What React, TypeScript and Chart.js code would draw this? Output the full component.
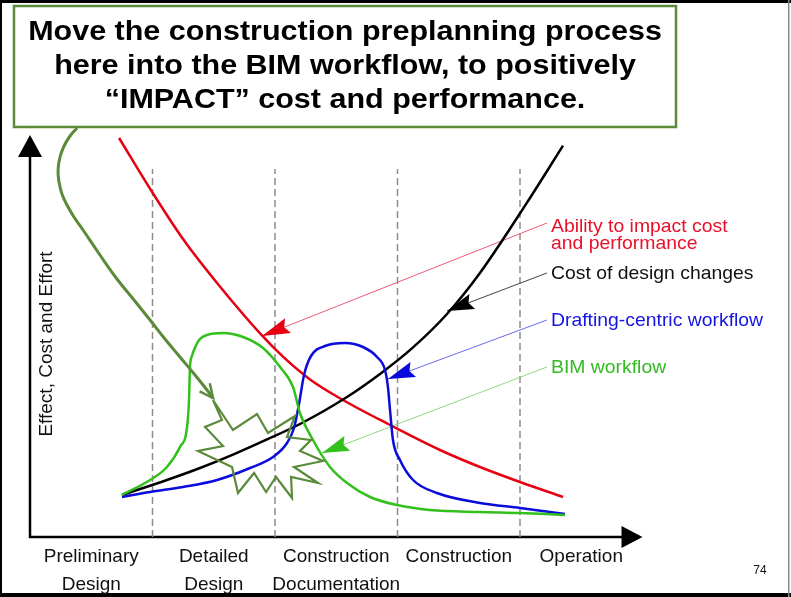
import React, { useEffect, useRef } from "react";
import { Chart, registerables } from "chart.js";

Chart.register(...registerables);

const FONT = "'Liberation Sans', Arial, Helvetica, sans-serif";

// ---- categories / axis texts ----
const phaseLabels: string[][] = [
  ["Preliminary", "Design"],
  ["Detailed", "Design"],
  ["Construction", "Documentation"],
  ["Construction"],
  ["Operation"],
];
const phaseCenters = [0.5, 1.5, 2.5, 3.5, 4.5];
const phaseBoundaries = [1, 2, 3, 4];
const boundaryTop = 92;
const yAxisTitle = "Effect, Cost and Effort";
const yAxisTop = 100.5;
const xAxisEnd = 5;

const calloutLines = [
  "Move the construction preplanning process",
  "here into the BIM workflow, to positively",
  "\u201CIMPACT\u201D cost and performance.",
];
const pageNumber = "74";

// ---- series ----
const abilityX = [0.727, 1.004, 1.249, 1.527, 1.878, 2.065, 2.286, 2.555, 2.939, 3.347, 3.673, 4.0, 4.351];
const abilityY = [99.75, 85.9, 74.5, 63.5, 50.9, 45.1, 39.4, 34.25, 28, 21.75, 17.5, 13.75, 10];

const costX = [0.751, 1.118, 1.388, 1.657, 1.935, 2.204, 2.588, 2.857, 3.127, 3.404, 3.673, 4.057, 4.351];
const costY = [10.5, 14.25, 17.25, 20.6, 24.4, 28.25, 35, 40.75, 47.4, 55.75, 66, 83.6, 97.85];

const draftingX = [0.751, 0.98, 1.249, 1.527, 1.796, 1.984, 2.098, 2.155, 2.196, 2.237, 2.294, 2.408, 2.571, 2.718, 2.833, 2.898, 2.922, 2.939, 2.963, 3.02, 3.127, 3.322, 3.673, 4.0, 4.367];
const draftingY = [10, 11.25, 12.5, 14.25, 17.25, 20, 23.5, 27.25, 33.25, 40.5, 45.25, 47.75, 48.5, 47.5, 45, 41.75, 37.5, 31.75, 24.25, 19.25, 14.25, 11, 8.5, 7.25, 5.75];

const bimX = [0.751, 0.98, 1.118, 1.224, 1.282, 1.298, 1.306, 1.322, 1.38, 1.445, 1.576, 1.739, 1.902, 2.041, 2.147, 2.204, 2.31, 2.449, 2.588, 2.776, 2.996, 3.265, 3.673, 4.0, 4.367];
const bimY = [10.5, 14.25, 17.5, 22.5, 27.5, 34.25, 42.5, 45.25, 49.25, 50.5, 51, 50, 47.25, 42.5, 37.5, 31, 24.25, 17.5, 13.5, 10, 8, 6.75, 6.25, 6, 5.5];

// callout arrow (from box into BIM workflow)
const calloutArrowX = [0.384, 0.327, 0.278, 0.245, 0.229, 0.237, 0.261, 0.302, 0.359, 0.433, 0.571, 0.71, 0.849, 0.98, 1.102, 1.224, 1.347, 1.445, 1.494];
const calloutArrowY = [102.25, 100.25, 97.75, 95, 91.75, 88.75, 85.75, 83, 80, 76.75, 70.5, 64.5, 59.25, 54.25, 49.5, 45, 40.5, 36.75, 34.75];

// starburst outline
const starX = [1.494, 1.657, 1.853, 1.943, 2.163, 2.098, 2.294, 2.204, 2.392, 2.155, 2.351, 2.131, 2.139, 2.008, 1.927, 1.829, 1.698, 1.649, 1.371, 1.576, 1.429, 1.567, 1.494];
const starY = [34.25, 26.75, 30.75, 26, 30.25, 25, 24.25, 21.5, 19, 17.5, 13.5, 15, 9.75, 15, 11.25, 16, 11, 17.5, 21.5, 22.75, 27.5, 29.25, 34.25];

// series labels and their pointer arrows
const seriesNames: string[][] = [
  ["Ability to impact cost", "and performance"],
  ["Cost of design changes"],
  ["Drafting-centric workflow"],
  ["BIM workflow"],
];
const pointerFromX = [4.22, 4.22, 4.22, 4.22];
const pointerFromY = [78.5, 66, 54.25, 42.5];
const pointerToX = [1.894, 3.404, 2.922, 2.384];
const pointerToY = [50.25, 56.5, 39.5, 21];

const RED = "#e60012";
const BLACK = "#000000";
const BLUE = "#0b0bdc";
const GREEN = "#33bf1c";
const DARKGREEN = "#5b8a3a";
const seriesColors = [RED, BLACK, BLUE, GREEN];
const labelColors = ["#e8102a", "#111111", "#1414e0", "#33bb22"];
const pointerColors = ["#ee5a78", "#444444", "#6a6af2", "#8fd67e"];

const pts = (xs: number[], ys: number[]) => xs.map((x, i) => ({ x, y: ys[i] }));

function head(ctx: CanvasRenderingContext2D, tx: number, ty: number, fx: number, fy: number, len: number, half: number, color: string) {
  const a = Math.atan2(ty - fy, tx - fx);
  const bx = tx - len * Math.cos(a);
  const by = ty - len * Math.sin(a);
  const nx = -Math.sin(a);
  const ny = Math.cos(a);
  ctx.beginPath();
  ctx.moveTo(tx, ty);
  ctx.lineTo(bx + nx * half, by + ny * half);
  ctx.lineTo(bx + Math.cos(a) * len * 0.15, by + Math.sin(a) * len * 0.15);
  ctx.lineTo(bx - nx * half, by - ny * half);
  ctx.closePath();
  ctx.fillStyle = color;
  ctx.fill();
}

const decorPlugin = {
  id: "decor",
  beforeDatasetsDraw(chart: any) {
    const ctx: CanvasRenderingContext2D = chart.ctx;
    const xs = chart.scales.x;
    const ys = chart.scales.y;
    const x0 = xs.getPixelForValue(0);
    const y0 = ys.getPixelForValue(0);
    ctx.save();
    // page frame
    ctx.fillStyle = "#000";
    ctx.fillRect(0, 0, 791, 3);
    ctx.fillRect(0, 593, 791, 4);
    ctx.fillRect(0, 0, 2, 597);
    ctx.fillStyle = "#8a8a8a";
    ctx.fillRect(788, 0, 1.5, 597);
    // axes
    ctx.strokeStyle = "#000";
    ctx.fillStyle = "#000";
    ctx.lineWidth = 2.5;
    const yTip = ys.getPixelForValue(yAxisTop);
    ctx.beginPath();
    ctx.moveTo(x0, y0 + 1);
    ctx.lineTo(x0, yTip + 20);
    ctx.stroke();
    ctx.beginPath();
    ctx.moveTo(x0, yTip);
    ctx.lineTo(x0 - 12, yTip + 22);
    ctx.lineTo(x0 + 12, yTip + 22);
    ctx.closePath();
    ctx.fill();
    const xTip = xs.getPixelForValue(xAxisEnd);
    ctx.beginPath();
    ctx.moveTo(x0 - 1, y0);
    ctx.lineTo(xTip - 19, y0);
    ctx.stroke();
    ctx.beginPath();
    ctx.moveTo(xTip, y0);
    ctx.lineTo(xTip - 21, y0 - 11);
    ctx.lineTo(xTip - 21, y0 + 11);
    ctx.closePath();
    ctx.fill();
    ctx.restore();
  },
  afterDatasetsDraw(chart: any) {
    const ctx: CanvasRenderingContext2D = chart.ctx;
    const xs = chart.scales.x;
    const ys = chart.scales.y;
    const X = (v: number) => xs.getPixelForValue(v);
    const Y = (v: number) => ys.getPixelForValue(v);
    const y0 = Y(0);
    ctx.save();

    // pointer arrowheads
    for (let i = 0; i < pointerFromX.length; i++) {
      head(ctx, X(pointerToX[i]), Y(pointerToY[i]), X(pointerFromX[i]), Y(pointerFromY[i]), i === 0 ? 28 : 27, 8, seriesColors[i]);
    }

    // callout arrow head (open barbs)
    const n = calloutArrowX.length;
    const tx = X(calloutArrowX[n - 1]);
    const ty = Y(calloutArrowY[n - 1]);
    const fx = X(calloutArrowX[n - 3]);
    const fy = Y(calloutArrowY[n - 3]);
    const a = Math.atan2(ty - fy, tx - fx);
    ctx.strokeStyle = DARKGREEN;
    ctx.lineWidth = 2.5;
    ctx.lineJoin = "miter";
    ctx.beginPath();
    ctx.moveTo(tx - 15 * Math.cos(a - 0.45), ty - 15 * Math.sin(a - 0.45));
    ctx.lineTo(tx, ty);
    ctx.lineTo(tx - 15 * Math.cos(a + 0.45), ty - 15 * Math.sin(a + 0.45));
    ctx.stroke();

    // phase labels
    ctx.fillStyle = "#111";
    ctx.font = `19px ${FONT}`;
    ctx.textAlign = "center";
    ctx.textBaseline = "alphabetic";
    phaseLabels.forEach((lines, i) => {
      lines.forEach((t, j) => ctx.fillText(t, X(phaseCenters[i]), y0 + 25 + j * 28));
    });

    // y axis title
    ctx.save();
    ctx.translate(52, Y(48.25));
    ctx.rotate(-Math.PI / 2);
    ctx.textAlign = "center";
    ctx.fillText(yAxisTitle, 0, 0);
    ctx.restore();

    // series labels
    ctx.textAlign = "left";
    seriesNames.forEach((lines, i) => {
      ctx.fillStyle = labelColors[i];
      const lx = X(pointerFromX[i]) + 4;
      const ly = Y(pointerFromY[i]) + (i === 0 ? 9 : 6);
      lines.forEach((t, j) => {
        ctx.save();
        ctx.translate(lx, ly + j * 17);
        ctx.scale(1.02, 1);
        ctx.fillText(t, 0, 0);
        ctx.restore();
      });
    });

    // page number
    ctx.fillStyle = "#111";
    ctx.font = `12px ${FONT}`;
    ctx.textAlign = "center";
    ctx.fillText(pageNumber, 760, 574);

    // callout box
    ctx.fillStyle = "#ffffff";
    ctx.fillRect(14, 6, 662, 121);
    ctx.strokeStyle = DARKGREEN;
    ctx.lineWidth = 2.5;
    ctx.strokeRect(14, 6, 662, 121);
    ctx.fillStyle = "#000";
    ctx.font = `bold 28.5px ${FONT}`;
    ctx.textAlign = "center";
    calloutLines.forEach((t, j) => {
      ctx.save();
      ctx.translate(345, 40 + j * 34);
      ctx.scale(1.07, 1);
      ctx.fillText(t, 0, 0);
      ctx.restore();
    });

    ctx.restore();
  },
};

export default function App() {
  const ref = useRef<HTMLCanvasElement | null>(null);
  useEffect(() => {
    if (!ref.current) return;
    const curve = (data: any, color: string) => ({
      data,
      borderColor: color,
      borderWidth: 2.5,
      pointRadius: 0,
      cubicInterpolationMode: "monotone",
      fill: false,
    });
    const straight = (data: any, color: string, width: number, dash: number[] = []) => ({
      data,
      borderColor: color,
      borderWidth: width,
      borderDash: dash,
      pointRadius: 0,
      tension: 0,
      fill: false,
    });
    const datasets: any[] = [
      {
        data: pts(calloutArrowX, calloutArrowY),
        borderColor: DARKGREEN,
        borderWidth: 3,
        pointRadius: 0,
        tension: 0.45,
        fill: false,
      },
      straight(pts(starX, starY), DARKGREEN, 2.2),
      curve(pts(bimX, bimY), GREEN),
      curve(pts(draftingX, draftingY), BLUE),
      curve(pts(costX, costY), BLACK),
      curve(pts(abilityX, abilityY), RED),
      ...pointerFromX.map((_, i) =>
        straight(
          [
            { x: pointerFromX[i], y: pointerFromY[i] },
            { x: pointerToX[i], y: pointerToY[i] },
          ],
          pointerColors[i],
          1
        )
      ),
      ...phaseBoundaries.map((b) =>
        straight(
          [
            { x: b, y: 0 },
            { x: b, y: boundaryTop },
          ],
          "#8c8c8c",
          1.5,
          [7, 4]
        )
      ),
    ];
    const chart = new Chart(ref.current, {
      type: "line",
      data: { datasets },
      options: {
        responsive: false,
        animation: false,
        devicePixelRatio: 1,
        events: [],
        layout: { padding: { left: 30, right: 148.5, top: 117, bottom: 60 } },
        plugins: { legend: { display: false }, tooltip: { enabled: false }, title: { display: false } },
        scales: {
          x: { type: "linear", min: 0, max: 5, display: false },
          y: { type: "linear", min: 0, max: 105, display: false },
        },
      },
      plugins: [decorPlugin],
    } as any);
    return () => chart.destroy();
  }, []);
  return (
    <div style={{ position: "absolute", left: 0, top: 0, width: 791, height: 597, background: "#fff" }}>
      <canvas ref={ref} width={791} height={597} style={{ display: "block" }} />
    </div>
  );
}
